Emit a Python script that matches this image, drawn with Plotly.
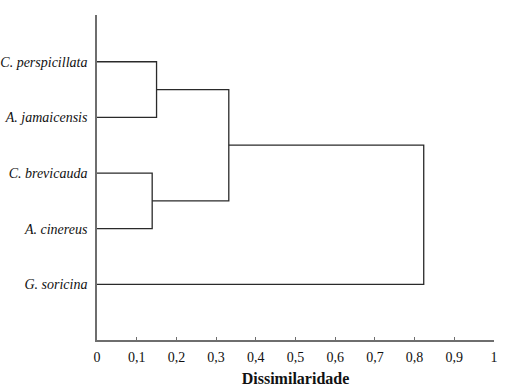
import plotly.graph_objects as go

# Leaves (top to bottom) and linkage (dissimilarity at each merge)
leaves = ["C. perspicillata", "A. jamaicensis", "C. brevicauda", "A. cinereus", "G. soricina"]
leaf_pos = [1, 2, 3, 4, 5]
merge_left = ["C. perspicillata", "C. brevicauda", "m0", "m2"]
merge_right = ["A. jamaicensis", "A. cinereus", "m1", "G. soricina"]
merge_height = [0.150, 0.139, 0.332, 0.823]

x_ticks = [0, 0.1, 0.2, 0.3, 0.4, 0.5, 0.6, 0.7, 0.8, 0.9, 1]
x_ticktext = ["0", "0,1", "0,2", "0,3", "0,4", "0,5", "0,6", "0,7", "0,8", "0,9", "1"]

node_y = {n: p for n, p in zip(leaves, leaf_pos)}
node_x = {n: 0.0 for n in leaves}

xs, ys = [], []
for i, (a, b, h) in enumerate(zip(merge_left, merge_right, merge_height)):
    ya, yb = node_y[a], node_y[b]
    xa, xb = node_x[a], node_x[b]
    xs += [xa, h, h, xb, None]
    ys += [ya, ya, yb, yb, None]
    node_y["m%d" % i] = (ya + yb) / 2
    node_x["m%d" % i] = h

fig = go.Figure()
fig.add_trace(go.Scatter(x=xs, y=ys, mode="lines",
                         line=dict(color="#2a2a2a", width=1.3),
                         hoverinfo="skip", cliponaxis=False, showlegend=False))

font = "Liberation Serif, Tinos, Times New Roman, serif"
fig.update_layout(
    width=507, height=391,
    margin=dict(l=97, r=13, t=15, b=51),
    paper_bgcolor="white", plot_bgcolor="white",
    font=dict(family=font, size=14, color="#111"),
    xaxis=dict(range=[0, 1], tickvals=x_ticks, ticktext=x_ticktext,
               showgrid=False, zeroline=False, showline=True,
               linecolor="#6e6e6e", linewidth=1.5, automargin=False,
               ticks="inside", ticklen=3, tickcolor="#6e6e6e",
               ticklabelstandoff=3, tickfont=dict(family=font, size=14),
               title=dict(text="<b>Dissimilaridade</b>", font=dict(family=font, size=16), standoff=9)),
    yaxis=dict(range=[6, 0.16], tickvals=leaf_pos,
               ticktext=["<i>%s</i>" % s for s in leaves],
               showgrid=False, zeroline=False, showline=True, automargin=False,
               linecolor="#6e6e6e", linewidth=1.5, ticks="",
               ticklabelstandoff=5, tickfont=dict(family=font, size=14)),
)
fig.write_html("out.html", config={"displayModeBar": False},
               post_script="document.body.style.margin='0';document.body.style.padding='0';")
